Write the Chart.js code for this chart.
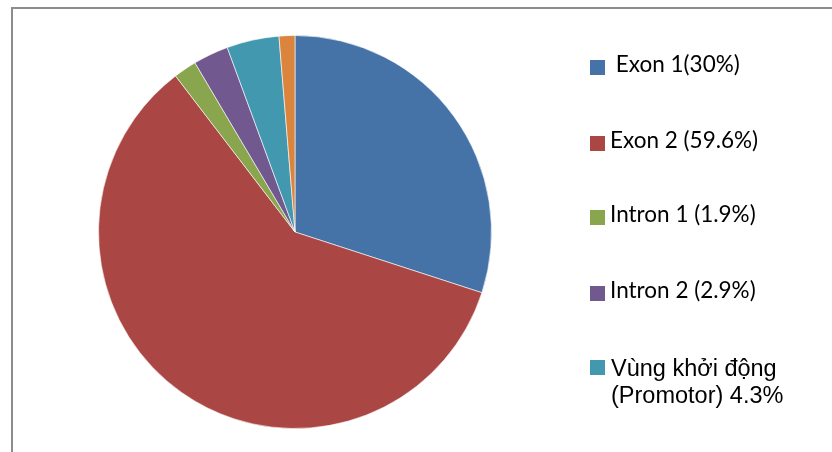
<!DOCTYPE html>
<html>
<head>
<meta charset="utf-8">
<script src="https://cdn.jsdelivr.net/npm/chart.js@4/dist/chart.umd.min.js"></script>
<style>
  html, body { margin: 0; padding: 0; background: #fff; }
  #wrap { width: 832px; height: 452px; position: relative; }
</style>
</head>
<body>
<div id="wrap"><canvas id="pie" width="832" height="452"></canvas></div>
<script>
// slice data, clockwise from 12 o'clock
const labels = [' Exon 1(30%)', 'Exon 2 (59.6%)', 'Intron 1 (1.9%)', 'Intron 2 (2.9%)', 'Vùng khởi động\n(Promotor) 4.3%', 'Khác'];
const values = [30, 59.6, 1.9, 2.9, 4.3, 1.3];
const colors = ['#4572A7', '#AA4643', '#89A54E', '#71588F', '#4198AF', '#DB843D'];
// legend only shows the first five entries (the box is cut off)
const legendCount = 5;
const legendY = [67, 143, 217, 293, 367];
const legendFonts = ['22.5px Lato', '22.5px Lato', '22.5px Lato', '22.5px Lato', '23.5px Arial, "Liberation Sans", sans-serif'];

const framePlugin = {
  id: 'frame',
  beforeDraw(chart) {
    const ctx = chart.ctx;
    ctx.save();
    ctx.strokeStyle = '#8c8c8c';
    ctx.lineWidth = 2;
    ctx.strokeRect(12, 8, 840, 460);
    ctx.restore();
  }
};

const legendPlugin = {
  id: 'sideLegend',
  afterDraw(chart) {
    const ctx = chart.ctx;
    ctx.save();
    for (let i = 0; i < legendCount; i++) {
      const y = legendY[i];
      ctx.fillStyle = colors[i];
      ctx.fillRect(590, y - 7, 15, 15);
      ctx.fillStyle = '#000';
      ctx.font = legendFonts[i];
      const lines = labels[i].split('\n');
      if (lines.length > 1) {
        ctx.textBaseline = 'alphabetic';
        lines.forEach((ln, k) => ctx.fillText(ln, 611, y + 9 + k * 27));
      } else {
        ctx.textBaseline = 'middle';
        ctx.fillText(lines[0], 610, y - 2);
      }
    }
    ctx.restore();
  }
};

new Chart(document.getElementById('pie'), {
  type: 'pie',
  data: {
    labels: labels,
    datasets: [{
      data: values,
      backgroundColor: colors,
      borderColor: 'rgba(255,255,255,0.6)',
      borderWidth: 1
    }]
  },
  options: {
    responsive: false,
    animation: false,
    layout: { padding: { left: 98, right: 340, top: 35, bottom: 23 } },
    plugins: {
      legend: { display: false },
      tooltip: { enabled: false }
    }
  },
  plugins: [framePlugin, legendPlugin]
});
</script>
</body>
</html>
